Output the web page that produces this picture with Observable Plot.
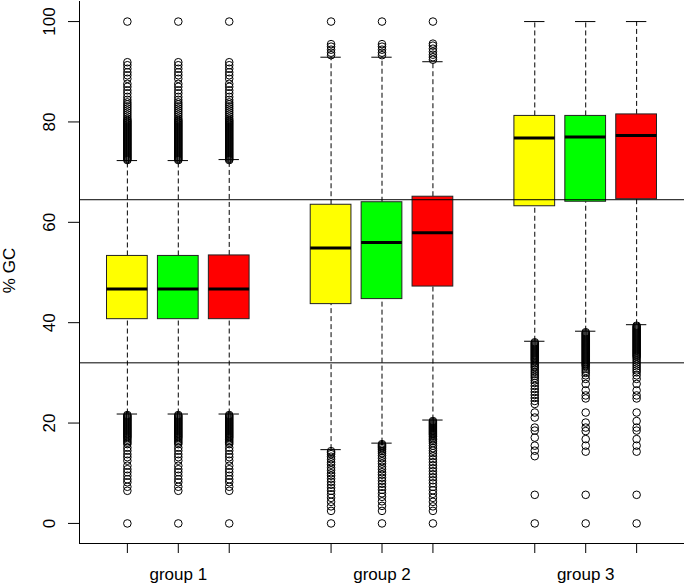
<!DOCTYPE html>
<html>
<head>
<meta charset="utf-8">
<script src="https://cdn.jsdelivr.net/npm/d3@7"></script>
<script src="https://cdn.jsdelivr.net/npm/@observablehq/plot@0.6"></script>
<style>
  html, body { margin: 0; padding: 0; background: #ffffff; }
  #chart { width: 685px; height: 585px; }
</style>
</head>
<body>
<div id="chart"></div>
<script>
// ---- data ----
const groups = ["group 1", "group 2", "group 3"];
const groupCenters = [2, 6, 10];
const positions = [1, 2, 3, 5, 6, 7, 9, 10, 11];
const boxColors = ["#ffff00", "#00ff00", "#ff0000"];
const yTicks = [0, 20, 40, 60, 80, 100];
const refLines = [64.5, 32];

const q1 = [40.7, 40.7, 40.7, 43.7, 44.7, 47.2, 63.2, 64.1, 64.6];
const medians = [46.7, 46.7, 46.7, 54.9, 56.0, 57.9, 76.8, 77.0, 77.3];
const q3 = [53.3, 53.3, 53.4, 63.5, 64.0, 65.1, 81.2, 81.2, 81.5];
const whiskerLow = [21.8, 21.8, 21.8, 14.7, 16.0, 20.6, 36.3, 38.3, 39.6];
const whiskerHigh = [72.3, 72.3, 72.5, 92.9, 92.9, 92.0, 100, 100, 100];

// outliers of group 1 (the three boxes look identical)
const g1Upper = [100, 91.9, 91.3, 90.6, 89.9, 89.3, 88.6, 87.6, 87.0, 86.3, 85.7, 85.0, 84.4,
  83.9, 83.5, 83.1, 82.7, 82.3, 81.9, 81.5, 81.1, 80.7, 80.4, 80.2, 80.0, 79.8, 79.6, 79.4,
  79.2, 79.0, 78.8, 78.6, 78.4, 78.2, 78.0, 77.8, 77.6, 77.4, 77.2, 77.0, 76.8, 76.6, 76.4,
  76.2, 76.0, 75.8, 75.6, 75.4, 75.2, 75.0, 74.8, 74.6, 74.4, 74.2, 74.0, 73.8, 73.6, 73.4,
  73.2, 73.0, 72.8, 72.6, 72.4];
const g1Lower = [21.6, 21.4, 21.2, 21.0, 20.8, 20.6, 20.4, 20.2, 20.0, 19.8, 19.6, 19.4, 19.2,
  19.0, 18.8, 18.6, 18.4, 18.2, 18.0, 17.8, 17.6, 17.4, 17.2, 17.0, 16.7, 16.4, 16.1, 15.8,
  15.1, 14.5, 13.8, 13.2, 12.5, 11.5, 10.8, 10.2, 9.5, 8.8, 8.2, 7.3, 6.5, 0];
const g2aOut = [100, 95.5, 95.0, 94.4, 93.8, 93.3, 14.4, 14.1, 13.8, 13.3, 12.8, 12.2, 11.7,
  11.1, 10.6, 10.0, 9.5, 8.9, 8.3, 7.7, 7.1, 6.5, 5.8, 5.1, 4.3, 3.4, 2.5, 0];
const g2bOut = [100, 95.5, 95.0, 94.4, 93.8, 93.3, 15.8, 15.6, 15.4, 15.2, 15.0, 14.7, 14.4,
  14.0, 13.5, 13.0, 12.4, 11.9, 11.3, 10.8, 10.2, 9.7, 9.1, 8.5, 7.9, 7.3, 6.7, 6.0, 5.3, 4.4,
  3.5, 2.5, 0];
const g2cOut = [100, 95.6, 95.2, 94.6, 94.0, 93.4, 92.9, 92.4, 20.4, 20.2, 20.0, 19.8, 19.6,
  19.4, 19.2, 19.0, 18.8, 18.6, 18.4, 18.2, 18.0, 17.8, 17.6, 17.3, 17.0, 16.7, 16.4, 16.0,
  15.5, 15.0, 14.5, 14.0, 13.4, 12.8, 12.2, 11.6, 11.0, 10.4, 9.8, 9.2, 8.6, 8.0, 7.3, 6.6,
  5.9, 5.1, 4.3, 3.4, 2.5, 0];
const g3aOut = [36.1, 35.9, 35.7, 35.5, 35.3, 35.1, 34.9, 34.7, 34.5, 34.3, 34.1, 33.9, 33.7,
  33.5, 33.3, 33.1, 32.9, 32.7, 32.5, 32.2, 31.9, 31.6, 31.3, 31.0, 30.6, 30.2, 29.8, 29.4,
  29.0, 28.5, 28.0, 27.4, 26.8, 26.2, 25.6, 25.0, 24.4, 23.8, 22.1, 21.1, 19.1, 18.5, 17.1,
  15.5, 14.5, 13.4, 5.7, 0];
const g3bOut = [38.1, 37.9, 37.7, 37.5, 37.3, 37.1, 36.9, 36.7, 36.5, 36.3, 36.1, 35.9, 35.7,
  35.5, 35.3, 35.1, 34.9, 34.7, 34.5, 34.3, 34.1, 33.9, 33.7, 33.5, 33.3, 33.1, 32.9, 32.7,
  32.5, 32.3, 32.1, 31.9, 31.7, 31.5, 31.2, 30.8, 30.4, 30.0, 29.5, 28.8, 27.8, 26.5, 25.5,
  24.9, 22.1, 20.1, 19.1, 18.4, 16.8, 15.5, 14.3, 5.7, 0];
const g3cOut = [39.4, 39.2, 39.0, 38.8, 38.6, 38.4, 38.2, 38.0, 37.8, 37.6, 37.4, 37.2, 37.0,
  36.8, 36.6, 36.4, 36.2, 36.0, 35.8, 35.6, 35.4, 35.2, 35.0, 34.8, 34.6, 34.4, 34.2, 34.0,
  33.8, 33.6, 33.4, 33.2, 32.9, 32.5, 32.1, 31.7, 31.3, 30.9, 30.5, 30.1, 29.5, 28.8, 27.8,
  26.5, 25.5, 24.9, 22.1, 20.4, 19.1, 18.5, 16.8, 15.5, 14.3, 5.7, 0];
const outlierLists = [g1Upper.concat(g1Lower), g1Upper.concat(g1Lower), g1Upper.concat(g1Lower),
  g2aOut, g2bOut, g2cOut, g3aOut, g3bOut, g3cOut];

const xDomain = [0.06, 11.94];
const yDomain = [-4, 104];

// ---- tables ----
const boxes = positions.map((p, i) => ({
  p, fill: boxColors[i % 3], q1: q1[i], med: medians[i], q3: q3[i],
  lo: whiskerLow[i], hi: whiskerHigh[i]
}));
const outliers = outlierLists.flatMap((list, i) => list.map(v => ({p: positions[i], v})));

const chart = Plot.plot({
  width: 685,
  height: 585,
  marginLeft: 79,
  marginRight: 1,
  marginTop: 1,
  marginBottom: 42,
  x: {domain: xDomain},
  y: {domain: yDomain},
  color: {type: "identity"},
  style: {fontFamily: "'Liberation Sans', Arial, sans-serif", fontSize: "17px", background: "#ffffff", color: "#000000"},
  marks: [
    // whiskers
    Plot.ruleX(boxes, {x: "p", y1: "q3", y2: "hi", stroke: "#000", strokeDasharray: "5,3"}),
    Plot.ruleX(boxes, {x: "p", y1: "lo", y2: "q1", stroke: "#000", strokeDasharray: "5,3"}),
    // caps
    Plot.ruleY(boxes, {y: "hi", x1: d => d.p - 0.2, x2: d => d.p + 0.2, stroke: "#000"}),
    Plot.ruleY(boxes, {y: "lo", x1: d => d.p - 0.2, x2: d => d.p + 0.2, stroke: "#000"}),
    // boxes
    Plot.rect(boxes, {x1: d => d.p - 0.4, x2: d => d.p + 0.4, y1: "q1", y2: "q3", fill: "fill", stroke: "#222", strokeWidth: 1}),
    // medians
    Plot.ruleY(boxes, {y: "med", x1: d => d.p - 0.4, x2: d => d.p + 0.4, stroke: "#000", strokeWidth: 3}),
    // outliers
    Plot.dot(outliers, {x: "p", y: "v", r: 3.8, stroke: "#000", fill: "none", strokeWidth: 1}),
    // reference lines
    Plot.ruleY(refLines, {stroke: "#000", strokeWidth: 1}),
    // plot frame (left & bottom)
    Plot.ruleX([xDomain[0]], {stroke: "#000"}),
    Plot.ruleY([yDomain[0]], {stroke: "#000"}),
    // axes
    Plot.axisY({ticks: yTicks, tickSize: 11, tickPadding: 14, tickRotate: -90, textAnchor: "middle", lineAnchor: "bottom", label: null}),
    Plot.axisX({ticks: positions, tickSize: 10, tickFormat: () => "", label: null}),
    Plot.axisX({ticks: groupCenters, tickSize: 0, tickPadding: 24, tickFormat: d => groups[groupCenters.indexOf(d)], label: null}),
    Plot.text(["% GC"], {frameAnchor: "left", dx: -77, dy: -2, rotate: -90, textAnchor: "middle", lineAnchor: "top", fontSize: 17})
  ]
});
document.getElementById("chart").appendChild(chart);
</script>
</body>
</html>
